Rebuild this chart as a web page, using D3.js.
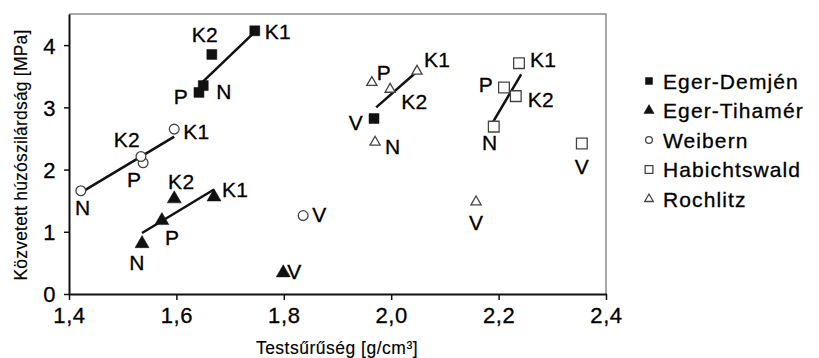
<!DOCTYPE html>
<html>
<head>
<meta charset="utf-8">
<script src="https://cdn.jsdelivr.net/npm/d3@7"></script>
<style>
  body { margin: 0; background: #fff; }
  svg text { font-family: "Liberation Sans", Arial, sans-serif; fill: #000; stroke: #000; stroke-width: 0.3px; }
</style>
</head>
<body>
<div id="chart"></div>
<script>
// values
const seriesNames = ['Eger-Demjén', 'Eger-Tihamér', 'Weibern', 'Habichtswald', 'Rochlitz'];
const seriesMarks = ['squareFilled', 'triangleFilled', 'circleOpen', 'squareOpen', 'triangleOpen'];
const pointLabels = ['N', 'P', 'K2', 'K1', 'V'];

const demjenX = [1.650, 1.642, 1.666, 1.746, 1.968];
const demjenY = [3.35, 3.24, 3.85, 4.23, 2.82];
const tihamerX = [1.536, 1.573, 1.596, 1.670, 1.799];
const tihamerY = [0.81, 1.18, 1.53, 1.56, 0.34];
const weibernX = [1.422, 1.538, 1.534, 1.596, 1.836];
const weibernY = [1.66, 2.11, 2.21, 2.65, 1.26];
const habichtX = [2.191, 2.210, 2.232, 2.238, 2.355];
const habichtY = [2.69, 3.32, 3.18, 3.71, 2.42];
const rochlitzX = [1.970, 1.964, 1.998, 2.048, 2.158];
const rochlitzY = [2.44, 3.40, 3.29, 3.58, 1.48];

// trend lines (x1, y1, x2, y2)
const trendLines = [
  [1.648, 3.40, 1.748, 4.23],
  [1.536, 0.98, 1.670, 1.68],
  [1.422, 1.63, 1.596, 2.53],
  [2.190, 2.77, 2.242, 3.53],
  [1.972, 3.00, 2.046, 3.56]
];

const xTicks = [1.4, 1.6, 1.8, 2.0, 2.2, 2.4];
const yTicks = [0, 1, 2, 3, 4];
const xTitle = 'Testsűrűség [g/cm³]';
const yTitle = 'Közvetett húzószilárdság [MPa]';

const width = 819;
const height = 358;
const plot = { left: 69, right: 606, top: 14, bottom: 294 };

const xs = [demjenX, tihamerX, weibernX, habichtX, rochlitzX];
const ys = [demjenY, tihamerY, weibernY, habichtY, rochlitzY];

const points = [];
seriesNames.forEach((name, s) => {
  pointLabels.forEach((lab, i) => {
    points.push({ s: s, label: lab, x: xs[s][i], y: ys[s][i] });
  });
});

// label placement next to each point: [anchor, dx, dy]
const labelPos = {
  '0N': ['start', 13, 6], '0P': ['end', -11, 4], '0K2': ['middle', -7, -20], '0K1': ['start', 10, 1], '0V': ['end', -11, 4],
  '1N': ['middle', -5, 19], '1P': ['start', 3, 17], '1K2': ['middle', 7, -17], '1K1': ['start', 8, -7], '1V': ['start', 4, -1],
  '2N': ['middle', 2, 17], '2P': ['middle', -9, 17], '2K2': ['middle', -14, -17], '2K1': ['start', 9, 2], '2V': ['start', 9, -1],
  '3N': ['middle', -4, 16], '3P': ['end', -11, -3], '3K2': ['start', 12, 3], '3K1': ['start', 11, -4], '3V': ['middle', 0, 23],
  '4N': ['start', 10, 4], '4P': ['start', 5, -10], '4K2': ['start', 11, 12], '4K1': ['start', 7, -12], '4V': ['middle', 0, 21]
};

const xScale = d3.scaleLinear().domain([1.4, 2.4]).range([plot.left, plot.right]);
const yScale = d3.scaleLinear().domain([0, 4.5]).range([plot.bottom, plot.top]);

const svg = d3.select('#chart').append('svg')
  .attr('width', width)
  .attr('height', height);

// frame (top + right in grey)
svg.append('path')
  .attr('d', `M${plot.left},${plot.top}H${plot.right}V${plot.bottom}`)
  .attr('fill', 'none')
  .attr('stroke', '#8c8c8c')
  .attr('stroke-width', 1.5);

const comma = d => d3.format('.1f')(d).replace('.', ',');

const xAxis = svg.append('g')
  .attr('transform', `translate(0,${plot.bottom})`)
  .call(d3.axisBottom(xScale).tickValues(xTicks).tickFormat(comma).tickSize(6).tickSizeOuter(0).tickPadding(7));
const yAxis = svg.append('g')
  .attr('transform', `translate(${plot.left},0)`)
  .call(d3.axisLeft(yScale).tickValues(yTicks).tickFormat(d3.format('d')).tickSize(5).tickSizeOuter(0).tickPadding(8));

[xAxis, yAxis].forEach(ax => {
  ax.select('.domain').attr('stroke', '#111').attr('stroke-width', 2);
  ax.selectAll('.tick line').attr('stroke', '#111').attr('stroke-width', 1.5);
  ax.selectAll('.tick text')
    .style('font-family', '"Liberation Sans", Arial, sans-serif')
    .style('font-size', '22px')
    .style('letter-spacing', '0.6px')
    .attr('fill', '#000');
});
yAxis.selectAll('.tick text').attr('dy', '0.36em');

// axis titles
svg.append('text')
  .attr('x', 337)
  .attr('y', 354)
  .attr('text-anchor', 'middle')
  .style('font-size', '17.5px')
  .style('letter-spacing', '0.5px')
  .style('stroke-width', '0.15px')
  .text(xTitle);

svg.append('text')
  .attr('transform', 'translate(27,155) rotate(-90)')
  .attr('text-anchor', 'middle')
  .style('font-size', '17.5px')
  .style('letter-spacing', '0.2px')
  .style('stroke-width', '0.15px')
  .text(yTitle);

// trend lines
svg.append('g').selectAll('line')
  .data(trendLines)
  .enter()
  .append('line')
  .attr('x1', d => xScale(d[0]))
  .attr('y1', d => yScale(d[1]))
  .attr('x2', d => xScale(d[2]))
  .attr('y2', d => yScale(d[3]))
  .attr('stroke', '#111')
  .attr('stroke-width', 2.5);

function markPath(kind, big) {
  const sizes = big
    ? { squareFilled: 100, triangleFilled: 85, circleOpen: 75, squareOpen: 115, triangleOpen: 45 }
    : { squareFilled: 49, triangleFilled: 45, circleOpen: 36, squareOpen: 60, triangleOpen: 32 };
  const type = kind.startsWith('square') ? d3.symbolSquare
    : kind.startsWith('triangle') ? d3.symbolTriangle : d3.symbolCircle;
  return d3.symbol().type(type).size(sizes[kind])();
}

function styleMark(sel, kind) {
  const filled = kind.endsWith('Filled');
  sel.attr('fill', filled ? '#111' : '#fff')
    .attr('stroke', filled ? '#111' : '#444')
    .attr('stroke-width', filled ? 0.5 : 1.3);
}

// points
const pts = svg.append('g').selectAll('g')
  .data(points)
  .enter()
  .append('g')
  .attr('transform', d => `translate(${xScale(d.x)},${yScale(d.y)})`);

pts.append('path')
  .attr('d', d => markPath(seriesMarks[d.s], true))
  .each(function (d) { styleMark(d3.select(this), seriesMarks[d.s]); });

pts.append('text')
  .attr('text-anchor', d => labelPos[d.s + d.label][0])
  .attr('x', d => labelPos[d.s + d.label][1])
  .attr('y', d => labelPos[d.s + d.label][2])
  .attr('dy', '0.36em')
  .style('font-size', '21px')
  .style('letter-spacing', '0.3px')
  .text(d => d.label);

// legend
const legend = svg.append('g').selectAll('g')
  .data(seriesNames)
  .enter()
  .append('g')
  .attr('transform', (d, i) => `translate(649,${81 + i * 29.5})`);

legend.append('path')
  .attr('d', (d, i) => markPath(seriesMarks[i], false))
  .each(function (d, i) { styleMark(d3.select(this), seriesMarks[i]); });

legend.append('text')
  .attr('x', 14)
  .attr('dy', '0.36em')
  .style('font-size', '21px')
  .style('letter-spacing', '1.1px')
  .text(d => d);
</script>
</body>
</html>
